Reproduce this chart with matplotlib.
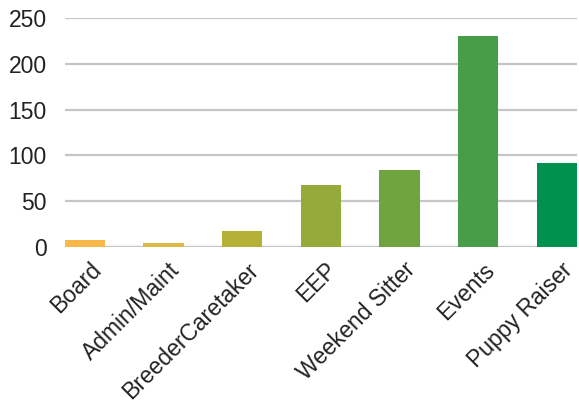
import matplotlib
matplotlib.use("Agg")
import matplotlib.pyplot as plt
import matplotlib.transforms as mtransforms

# volunteer roles and counts
roles = ["Board", "Admin/Maint", "BreederCaretaker", "EEP",
         "Weekend Sitter", "Events", "Puppy Raiser"]
counts = [8, 4, 17, 68, 84, 231, 92]
bar_colors = ["#F8B94A", "#DDBA45", "#B5B038", "#94AA3B",
              "#6FA43F", "#489D48", "#00914F"]
y_ticks = [0, 50, 100, 150, 200, 250]

plt.rcParams["font.family"] = ["Liberation Sans", "DejaVu Sans"]

fig = plt.figure(figsize=(5.79, 4.03), dpi=100)
ax = fig.add_axes([0.112, 0.387, 0.885, 0.568])

x = range(len(roles))
ax.bar(x, counts, width=0.51, color=bar_colors, zorder=3)

ax.set_ylim(0, 250)
ax.set_xlim(-0.255, len(roles) - 1 + 0.26)
ax.set_yticks(y_ticks)
ax.yaxis.grid(True, color="#C6C6C6", linewidth=1.6, zorder=0)
ax.set_axisbelow(True)
for side in ["top", "right", "left", "bottom"]:
    ax.spines[side].set_visible(False)
ax.axhline(0, color="#C6C6C6", linewidth=1.6, zorder=1)

ax.tick_params(axis="both", length=0, labelsize=16.5, colors="#222222")
ax.tick_params(axis="y", pad=13)
ax.set_xticks(list(x))
ax.set_xticklabels(roles, rotation=45, ha="right", va="center",
                   rotation_mode="anchor")
ax.tick_params(axis="x", pad=14)
shift = mtransforms.ScaledTranslation(0.125, 0, fig.dpi_scale_trans)
for lbl in ax.get_xticklabels():
    lbl.set_transform(lbl.get_transform() + shift)

fig.savefig("out.png", dpi=100)
plt.close(fig)
